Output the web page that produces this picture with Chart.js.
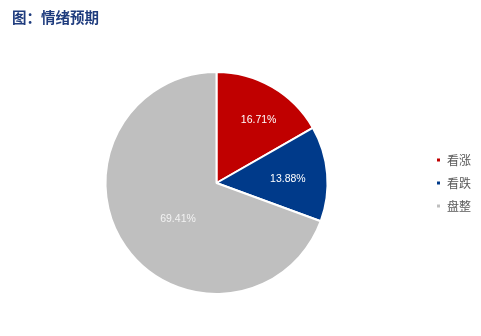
<!DOCTYPE html>
<html>
<head>
<meta charset="utf-8">
<script src="https://cdn.jsdelivr.net/npm/chart.js@4"></script>
<style>
  html, body { margin: 0; padding: 0; background: #fff; }
  #wrap { width: 481px; height: 336px; }
</style>
</head>
<body>
<div id="wrap"><canvas id="sentiment"></canvas></div>
<script>
const categories = ['看涨', '看跌', '盘整'];
const shares = [16.71, 13.88, 69.41];
const sliceColors = ['#C00000', '#003A8A', '#BFBFBF'];
const chartTitle = '图：情绪预期';

// title sits at the top-left corner, outside the chart layout
const cornerTitle = {
  id: 'cornerTitle',
  afterDraw(chart) {
    const ctx = chart.ctx;
    ctx.save();
    ctx.font = 'bold 14.5px "Noto Sans CJK SC"';
    ctx.fillStyle = '#1F3C7E';
    ctx.textBaseline = 'middle';
    ctx.fillText(chartTitle, 12, 17);
    ctx.restore();
  }
};

// put the percent labels inside the slices, roughly where Excel had them
const pctLabels = {
  id: 'pctLabels',
  afterDatasetsDraw(chart, args, opts) {
    const ctx = chart.ctx;
    const arcs = chart.getDatasetMeta(0).data;
    ctx.save();
    ctx.font = '10.5px "Liberation Sans", Arial, sans-serif';
    ctx.textAlign = 'center';
    ctx.textBaseline = 'middle';
    arcs.forEach((arc, i) => {
      const mid = (arc.startAngle + arc.endAngle) / 2 + opts.nudge[i] * Math.PI / 180;
      const r = arc.outerRadius * opts.radius[i];
      ctx.fillStyle = opts.colors[i];
      ctx.fillText(shares[i].toFixed(2) + '%', arc.x + Math.cos(mid) * r, arc.y + Math.sin(mid) * r + 0.5);
    });
    ctx.restore();
  }
};

new Chart(document.getElementById('sentiment'), {
  type: 'pie',
  data: {
    labels: categories,
    datasets: [{
      data: shares,
      backgroundColor: sliceColors,
      borderColor: '#ffffff',
      borderWidth: 2
    }]
  },
  options: {
    responsive: true,
    maintainAspectRatio: false,
    animation: false,
    layout: { padding: { top: 71, bottom: 41, left: 8, right: 0 } },
    plugins: {
      legend: {
        position: 'right',
        labels: {
          usePointStyle: true,
          pointStyle: 'rect',
          boxWidth: 5,
          boxHeight: 5,
          padding: 11,
          color: '#595959',
          font: { family: '"Noto Sans CJK SC"', size: 12 }
        }
      },
      tooltip: { enabled: false },
      pctLabels: {
        radius: [0.686, 0.644, 0.47],
        nudge: [3.5, 1.6, -7.5],
        colors: ['#ffffff', '#ffffff', '#F2F2F2']
      }
    }
  },
  plugins: [pctLabels, cornerTitle]
});
</script>
</body>
</html>
